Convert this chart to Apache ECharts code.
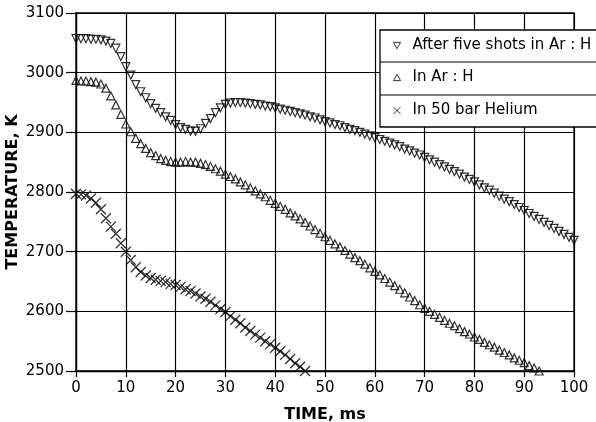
<!DOCTYPE html>
<html>
<head>
<meta charset="utf-8">
<script src="https://cdn.jsdelivr.net/npm/echarts@6/dist/echarts.min.js"></script>
<style>
html,body{margin:0;padding:0;background:#fff;}
#chart{width:596px;height:422px;}
</style>
</head>
<body>
<div id="chart"></div>
<script>
// time axis ticks (ms) and temperature ticks (K)
var xTicks = [0, 10, 20, 30, 40, 50, 60, 70, 80, 90, 100];
var yTicks = [2500, 2600, 2700, 2800, 2900, 3000, 3100];

// After five shots in Ar : H  (t = 0..100 ms, every 1 ms)
var fiveShots = [3057, 3057, 3057, 3056, 3056, 3055, 3053, 3049, 3041, 3027,
  3010, 2996, 2980, 2968, 2958, 2948, 2940, 2933, 2926, 2920,
  2913, 2908, 2905, 2902, 2902, 2906, 2915, 2923, 2933, 2941,
  2947, 2949, 2950, 2950, 2949, 2948, 2947, 2946, 2944, 2943,
  2941, 2939, 2937, 2935, 2933, 2931, 2929, 2926, 2924, 2921,
  2918, 2916, 2913, 2911, 2908, 2905, 2903, 2900, 2897, 2894,
  2891, 2888, 2885, 2882, 2879, 2876, 2872, 2869, 2865, 2862,
  2858, 2854, 2850, 2846, 2842, 2838, 2834, 2830, 2825, 2821,
  2817, 2812, 2807, 2803, 2798, 2793, 2788, 2784, 2779, 2774,
  2769, 2764, 2759, 2754, 2749, 2744, 2739, 2734, 2729, 2724, 2719];

// In Ar : H  (t = 0..93 ms)
var inArH = [2987, 2986, 2986, 2985, 2984, 2981, 2974, 2961, 2946, 2930,
  2914, 2901, 2890, 2881, 2873, 2866, 2861, 2856, 2853, 2851,
  2850, 2850, 2851, 2850, 2850, 2848, 2846, 2843, 2839, 2835,
  2830, 2826, 2822, 2817, 2812, 2807, 2802, 2797, 2792, 2786,
  2781, 2776, 2771, 2765, 2760, 2755, 2749, 2743, 2737, 2731,
  2725, 2719, 2713, 2708, 2702, 2696, 2690, 2685, 2679, 2673,
  2667, 2661, 2655, 2649, 2643, 2637, 2631, 2624, 2618, 2611,
  2605, 2600, 2595, 2590, 2585, 2580, 2576, 2571, 2566, 2562,
  2557, 2553, 2548, 2544, 2540, 2535, 2531, 2527, 2522, 2518,
  2514, 2509, 2505, 2500];

// In 50 bar Helium  (t = 0..46 ms)
var helium = [2797, 2796, 2794, 2789, 2782, 2771, 2756, 2742, 2730, 2714,
  2700, 2686, 2674, 2666, 2660, 2656, 2653, 2651, 2649, 2646,
  2644, 2641, 2637, 2634, 2630, 2625, 2621, 2616, 2610, 2604,
  2599, 2592, 2586, 2580, 2573, 2567, 2561, 2556, 2550, 2545,
  2539, 2533, 2527, 2520, 2513, 2507, 2500];

var names = ['After five shots in Ar : H', 'In Ar : H', 'In 50 bar Helium'];

function pairs(arr){
  var out = [];
  for (var i = 0; i < arr.length; i++) out.push([i, arr[i]]);
  return out;
}

var crossPath = 'path://M0,0L10,10M0,10L10,0';
var tri = 'triangle';

var chart = echarts.init(document.getElementById('chart'));
var font = 'DejaVu Sans';
var mk = {color: 'none', borderColor: '#000', borderWidth: 1.2};

function oneLegend(name, icon, top){
  return {
    data: [{name: name, icon: icon, itemStyle: {color: 'none', borderColor: '#000', borderWidth: 1}}],
    left: 391, top: top, orient: 'vertical', padding: 0,
    itemWidth: 7, itemHeight: 7, itemGap: 0, selectedMode: false,
    textStyle: {fontFamily: font, fontSize: 15, color: '#000', padding: [0, 0, 0, 7]}
  };
}

chart.setOption({
  animation: false,
  backgroundColor: '#fff',
  grid: {left: 76, right: 22, top: 13, bottom: 51, show: true, borderColor: '#000', borderWidth: 1.3,
    containLabel: false, outerBoundsMode: 'none'},
  legend: [
    oneLegend(names[0], 'path://M0,0L10,0L5,9Z', 38),
    oneLegend(names[1], 'path://M5,0L10,9L0,9Z', 70),
    oneLegend(names[2], crossPath, 103)
  ],
  graphic: [
    {type: 'rect', shape: {x: 380, y: 30, width: 220, height: 97}, style: {fill: '#fff', stroke: '#000', lineWidth: 1.3}, z: 4},
    {type: 'line', shape: {x1: 380, y1: 62, x2: 596, y2: 62}, style: {stroke: '#000', lineWidth: 1.2}, z: 5},
    {type: 'line', shape: {x1: 380, y1: 95, x2: 596, y2: 95}, style: {stroke: '#000', lineWidth: 1.2}, z: 5}
  ],
  xAxis: {
    type: 'value', min: 0, max: 100, interval: 10,
    name: 'TIME, ms', nameLocation: 'middle', nameGap: 36,
    nameTextStyle: {fontFamily: font, fontSize: 16, fontWeight: 'bold', color: '#000'},
    axisLine: {show: true, lineStyle: {color: '#000', width: 1.3}},
    axisTick: {show: true, length: 6, lineStyle: {color: '#000', width: 1.2}},
    axisLabel: {fontFamily: font, fontSize: 15, color: '#000', margin: 10},
    splitLine: {show: true, lineStyle: {color: '#000', width: 1.2}}
  },
  yAxis: {
    type: 'value', min: 2500, max: 3100, interval: 100,
    name: 'TEMPERATURE, K', nameLocation: 'middle', nameGap: 55, nameMoveOverlap: false,
    nameTextStyle: {fontFamily: font, fontSize: 16, fontWeight: 'bold', color: '#000'},
    axisLine: {show: true, lineStyle: {color: '#000', width: 1.3}},
    axisTick: {show: true, length: 10, lineStyle: {color: '#000', width: 1.2}},
    axisLabel: {fontFamily: font, fontSize: 15, color: '#000', margin: 12,
      formatter: function (v) { return String(v); }},
    splitLine: {show: true, lineStyle: {color: '#000', width: 1.2}}
  },
  series: [
    {name: names[0], type: 'scatter', data: pairs(fiveShots), symbol: tri, symbolRotate: 180, symbolSize: [8, 8], itemStyle: mk},
    {name: names[1], type: 'scatter', data: pairs(inArH), symbol: tri, symbolSize: [8, 8], itemStyle: mk},
    {name: names[2], type: 'scatter', data: pairs(helium), symbol: crossPath, symbolSize: 10, itemStyle: {color: 'none', borderColor: '#000', borderWidth: 1.3}}
  ]
});
</script>
</body>
</html>
